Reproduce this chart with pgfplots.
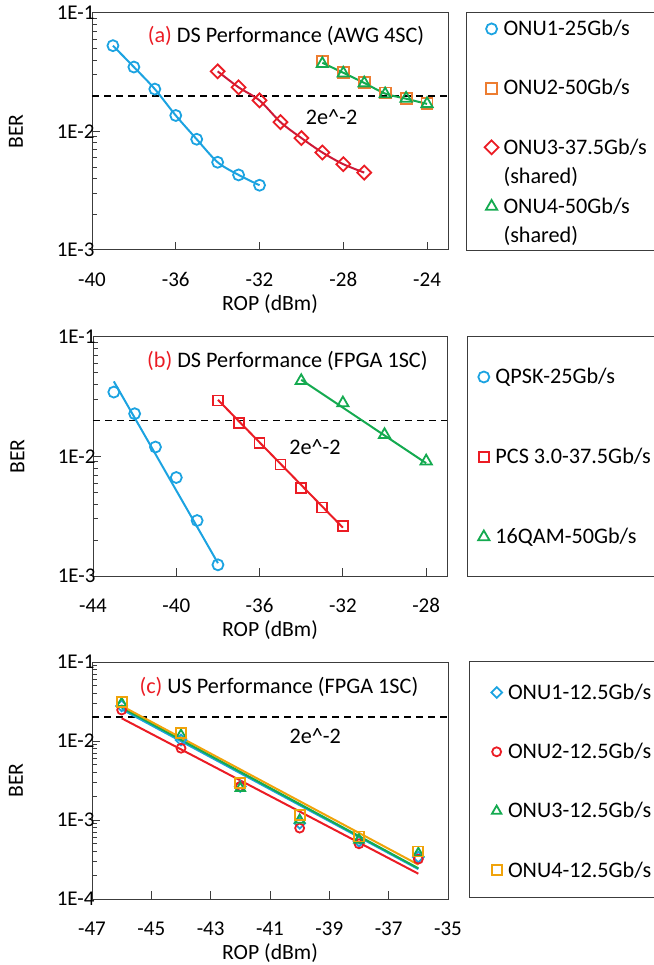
\documentclass[border=0pt]{standalone}
\usepackage{pgfplots}
\pgfplotsset{compat=1.18}
\usepackage{fontspec}
\setmainfont{Carlito}
\definecolor{cblue}{RGB}{28,163,225}
\definecolor{cred}{RGB}{235,28,36}
\definecolor{credline}{RGB}{205,25,55}
\definecolor{cgreen}{RGB}{20,170,80}
\definecolor{corange}{RGB}{237,125,49}
\definecolor{cyellow}{RGB}{240,163,10}
\definecolor{axgray}{RGB}{60,60,60}
\newcommand{\ff}{\fontsize{21bp}{25bp}\selectfont}
\newcommand{\fl}{\fontsize{21.7bp}{26bp}\selectfont}
\newcommand{\ft}{\fontsize{22.2bp}{26bp}\selectfont}
\pgfplotsset{
  mk/.style={only marks, mark options={solid, line width=1.8bp}},
  mkd/.style={only marks, mark options={solid, line width=1.8bp, rotate=45}},
  ln/.style={no marks, line width=2bp, forget plot},
  thr/.style={black, line width=1.5bp, dash pattern=on 7bp off 5bp, forget plot},
  every axis/.append style={
    scale only axis,
    anchor=south west,
    tick pos=left,
    tick align=inside,
    major tick length=8bp,
    minor tick length=5bp,
    axis line style={axgray, line width=1bp},
    tick style={axgray, line width=1bp},
    tick label style={font=\ff},
    label style={font=\fl},
    ylabel={BER},
    xlabel={ROP (dBm)},
    yticklabel style={xshift=6bp},
    xticklabel style={yshift=-19bp},
    legend cell align=left,
    legend style={draw=none, fill=none, font=\ft, anchor=north west, inner sep=0pt, column sep=2bp,
       nodes={inner xsep=3bp, inner ysep=0pt, text height=15bp, text depth=1.5bp}},
  },
  every axis y label/.style={at={(rel axis cs:-0.2135,0.5)}, rotate=90, anchor=center},
  every axis x label/.style={at={(rel axis cs:0.5,0)}, anchor=north, yshift=-41bp},
}
\begin{document}
\begin{tikzpicture}[font=\ff]
\useasboundingbox (0,0) rectangle (654bp,965bp);
% ---------------- (a)
\begin{semilogyaxis}[at={(92bp,715bp)}, width=356bp, height=237bp,
  xmin=-40, xmax=-23, ymin=1e-3, ymax=1e-1,
  xtick={-40,-36,-32,-28,-24}, xticklabels={-40,-36,-32,-28,-24},
  ytick={1e-3,1e-2,1e-1}, yticklabels={1E-3,1E-2,1E-1},
  minor ytick={2e-3,3e-3,4e-3,5e-3,6e-3,7e-3,8e-3,9e-3,2e-2,3e-2,4e-2,5e-2,6e-2,7e-2,8e-2,9e-2},
  legend style={at={(1.098,0.9685)}, row sep=13.1bp}]
\addplot[thr] coordinates {(-40,0.02) (-23,0.02)};
\addplot[ln, cblue, smooth, tension=0.5] coordinates {(-39,0.053) (-38,0.035) (-37,0.0228) (-36,0.01365) (-35,0.0086) (-34,0.0055) (-33,0.0043) (-32,0.00352)};
\addplot[ln, credline, smooth, tension=0.5] coordinates {(-34,0.0322) (-33,0.0236) (-32,0.0183) (-31,0.0120) (-30,0.0088) (-29,0.00665) (-28,0.0053) (-27,0.0045)};
\addplot[ln, cgreen, smooth, tension=0.5] coordinates {(-29,0.0380) (-28,0.0313) (-27,0.0257) (-26,0.0209) (-25,0.0189) (-24,0.0171)};
\addplot[mk, cblue, mark=o, mark size=5.5bp] coordinates {(-39,0.053) (-38,0.035) (-37,0.0228) (-36,0.01365) (-35,0.0086) (-34,0.0055) (-33,0.0043) (-32,0.00352)};
\addlegendentry{ONU1-25Gb/s}
\addlegendimage{empty legend}\addlegendentry{\mbox{}}
\addplot[mk, corange, mark=square, mark size=5.5bp] coordinates {(-29,0.0388) (-28,0.0317) (-27,0.0259) (-26,0.0211) (-25,0.0189) (-24,0.0171)};
\addlegendentry{ONU2-50Gb/s}
\addlegendimage{empty legend}\addlegendentry{\mbox{}}
\addplot[mkd, cred, mark=square, mark size=4.9bp] coordinates {(-34,0.0322) (-33,0.0236) (-32,0.0183) (-31,0.0120) (-30,0.0088) (-29,0.00665) (-28,0.0053) (-27,0.0045)};
\addlegendentry{ONU3-37.5Gb/s}
\addlegendimage{empty legend}\addlegendentry{(shared)}
\addplot[mk, cgreen, mark=triangle, mark size=6.5bp] coordinates {(-29,0.0373) (-28,0.0310) (-27,0.0256) (-26,0.0207) (-25,0.0190) (-24,0.0171)};
\addlegendentry{ONU4-50Gb/s}
\addlegendimage{empty legend}\addlegendentry{(shared)}
\node[anchor=base, font=\ft] at (rel axis cs:0.545,0.876) {\textcolor{cred}{(a)} DS Performance (AWG 4SC)};
\node[anchor=base, font=\ft] at (rel axis cs:0.673,0.528) {2e\textasciicircum{}-2};
\end{semilogyaxis}
% ---------------- (b)
\begin{semilogyaxis}[at={(93bp,389bp)}, width=354bp, height=239bp,
  xmin=-44, xmax=-27, ymin=1e-3, ymax=1e-1,
  xtick={-44,-40,-36,-32,-28}, xticklabels={-44,-40,-36,-32,-28},
  ytick={1e-3,1e-2,1e-1}, yticklabels={1E-3,1E-2,1E-1},
  minor ytick={2e-3,3e-3,4e-3,5e-3,6e-3,7e-3,8e-3,9e-3,2e-2,3e-2,4e-2,5e-2,6e-2,7e-2,8e-2,9e-2},
  legend style={at={(1.0876,0.868)}, row sep=63.5bp, column sep=3bp}]
\addplot[thr] coordinates {(-44,0.02) (-27,0.02)};
\addplot[ln, cblue] coordinates {(-43,0.0425) (-38,0.00128)};
\addplot[ln, cred] coordinates {(-38,0.0298) (-32,0.00254)};
\addplot[ln, cgreen] coordinates {(-34,0.0438) (-28,0.00879)};
\addplot[mk, cblue, mark=o, mark size=5.5bp] coordinates {(-43,0.0346) (-42,0.0228) (-41,0.0120) (-40,0.00667) (-39,0.00291) (-38,0.00124)};
\addlegendentry{QPSK-25Gb/s}
\addplot[mk, cred, mark=square, mark size=5bp] coordinates {(-38,0.0294) (-37,0.0190) (-36,0.0129) (-35,0.00857) (-34,0.00543) (-33,0.00374) (-32,0.00262)};
\addlegendentry{PCS 3.0-37.5Gb/s}
\addplot[mk, cgreen, mark=triangle, mark size=6.5bp] coordinates {(-34,0.0430) (-32,0.0280) (-30,0.0152) (-28,0.00914)};
\addlegendentry{16QAM-50Gb/s}
\node[anchor=base, font=\ft] at (rel axis cs:0.549,0.873) {\textcolor{cred}{(b)} DS Performance (FPGA 1SC)};
\node[anchor=base, font=\ft] at (rel axis cs:0.627,0.507) {2e\textasciicircum{}-2};
\end{semilogyaxis}
% ---------------- (c)
\begin{semilogyaxis}[at={(92bp,66bp)}, width=356bp, height=237bp,
  xmin=-47, xmax=-35, ymin=1e-4, ymax=1e-1,
  xtick={-47,-45,-43,-41,-39,-37,-35}, xticklabels={-47,-45,-43,-41,-39,-37,-35},
  ytick={1e-4,1e-3,1e-2,1e-1}, yticklabels={1E-4,1E-3,1E-2,1E-1},
  minor ytick={2e-4,3e-4,4e-4,5e-4,6e-4,7e-4,8e-4,9e-4,2e-3,3e-3,4e-3,5e-3,6e-3,7e-3,8e-3,9e-3,2e-2,3e-2,4e-2,5e-2,6e-2,7e-2,8e-2,9e-2},
  legend style={at={(1.121,0.907)}, row sep=42.8bp, column sep=3bp}]
\addplot[thr] coordinates {(-47,0.02) (-35,0.02)};
\addplot[ln, cred] coordinates {(-46,0.0194) (-36,0.000209)};
\addplot[ln, cblue] coordinates {(-46,0.0252) (-36,0.000239)};
\addplot[ln, cgreen] coordinates {(-46,0.0265) (-36,0.000245)};
\addplot[ln, cyellow] coordinates {(-46,0.0278) (-36,0.000272)};
\addplot[mkd, cblue, mark=square, mark size=3.8bp] coordinates {(-46,0.0278) (-44,0.0103) (-42,0.00266) (-40,0.00091) (-38,0.00054) (-36,0.00034)};
\addlegendentry{ONU1-12.5Gb/s}
\addplot[mk, cred, mark=o, mark size=4.5bp] coordinates {(-46,0.0247) (-44,0.0081) (-42,0.00266) (-40,0.00079) (-38,0.00050) (-36,0.00032)};
\addlegendentry{ONU2-12.5Gb/s}
\addplot[mk, cgreen, mark=triangle, mark size=5.5bp] coordinates {(-46,0.0300) (-44,0.0119) (-42,0.00253) (-40,0.00100) (-38,0.00056) (-36,0.00038)};
\addlegendentry{ONU3-12.5Gb/s}
\addplot[mk, cyellow, mark=square, mark size=5bp] coordinates {(-46,0.0309) (-44,0.01253) (-42,0.00292) (-40,0.00116) (-38,0.00062) (-36,0.00040)};
\addlegendentry{ONU4-12.5Gb/s}
\node[anchor=base, font=\ft] at (rel axis cs:0.525,0.869) {\textcolor{cred}{(c)} US Performance (FPGA 1SC)};
\node[anchor=base, font=\ft] at (rel axis cs:0.627,0.656) {2e\textasciicircum{}-2};
\end{semilogyaxis}
% legend frames
\draw[axgray, line width=1bp] (466bp,952.7bp) rectangle (680bp,714bp);
\draw[axgray, line width=1bp] (467bp,628bp) rectangle (680bp,388bp);
\draw[axgray, line width=1bp] (469bp,303bp) rectangle (680bp,67bp);
\end{tikzpicture}
\end{document}
